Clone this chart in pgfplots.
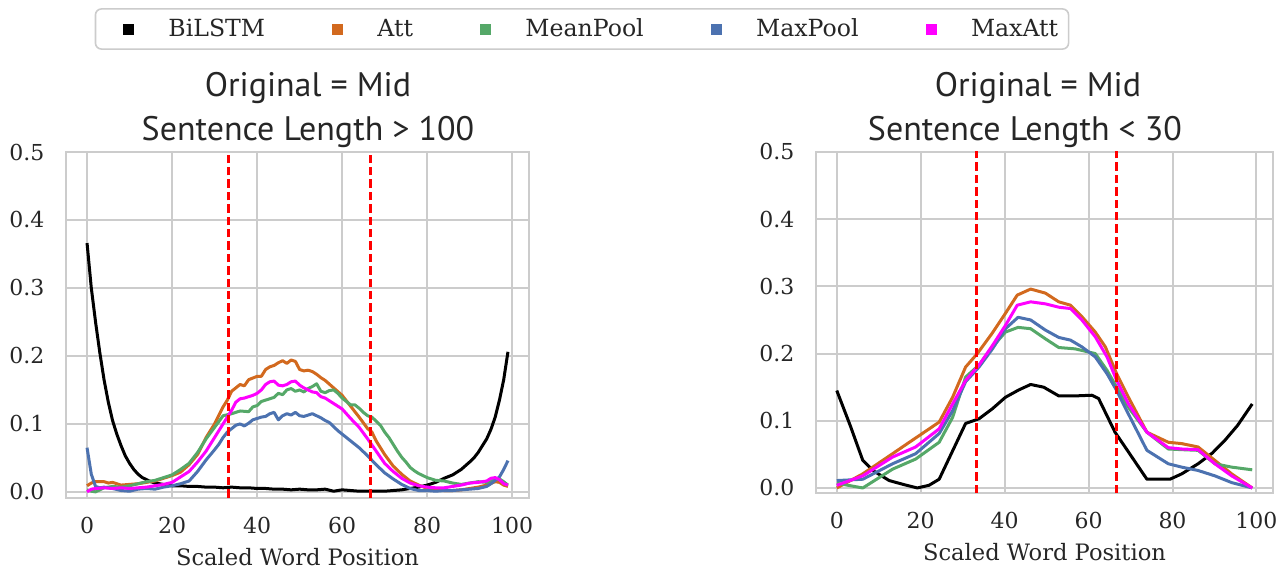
\documentclass[border=0pt]{standalone}
\usepackage{fontspec}
\setmainfont{DejaVu Serif}
\newfontfamily\titlefont{PT Sans}
\usepackage{pgfplots}
\pgfplotsset{compat=1.18}
\definecolor{cAtt}{HTML}{D2691E}
\definecolor{cMean}{HTML}{55A868}
\definecolor{cMax}{HTML}{4C72B0}
\definecolor{cMaxAtt}{HTML}{FF00FF}
\definecolor{gridc}{HTML}{CCCCCC}
\definecolor{txt}{HTML}{262626}

\pgfplotsset{
  sea/.style={
    scale only axis,
    xmin=-4.95, xmax=103.95,
    ymax=0.5,
    xtick={0,20,40,60,80,100},
    ytick={0,0.1,0.2,0.3,0.4,0.5},
    grid=major,
    major grid style={gridc, line width=1pt},
    axis line style={gridc, line width=1pt},
    major tick length=0pt,
    tick label style={font=\fontsize{11}{13}\selectfont, text=txt},
    /pgf/number format/assume math mode=true,
    yticklabel style={/pgf/number format/fixed, /pgf/number format/fixed zerofill, /pgf/number format/precision=1, xshift=-7.3pt},
    xticklabel style={yshift=-6.3pt},
    xlabel={Scaled Word Position},
    xlabel style={font=\fontsize{11.3}{13}\selectfont, text=txt, at={(axis description cs:0.5,0)}, anchor=base, yshift=-33.5pt},
    every axis plot/.append style={line width=1.5pt, line join=round},
    clip=true,
  },
  redline/.style={red, line width=1.35pt, dash pattern=on 4.2pt off 2pt, forget plot},
}

\begin{document}
\begin{tikzpicture}
\path[use as bounding box] (-33pt,-35pt) rectangle (607.5pt,249pt);

\begin{axis}[sea,
  at={(0pt,0pt)}, anchor=south west,
  width=231.5pt, height=173pt,
  ymin=-0.009,
  legend columns=5,
  legend image code/.code={\fill[#1, sharp corners, draw=none] (-2.75pt,-2.75pt) rectangle (2.75pt,2.75pt); \path[draw=none, fill=none] (-13.3pt,0pt) -- (18pt,0pt);},
  legend style={at={(1.1145,1.3555)}, anchor=center, draw=gridc, line width=0.8pt, rounded corners=3pt, fill=white,
    font=\fontsize{11.8}{14}\selectfont, text=txt, inner xsep=3.2pt, inner ysep=2.8pt,
    /tikz/every even column/.append style={column sep=20.9pt}},
]
\addplot[black] coordinates {
(0,0.366) (1,0.300) (2,0.250) (3,0.205) (4,0.165) (5,0.132) (6,0.105) (7,0.085) (8,0.068) (9,0.053)
(10,0.042) (11,0.033) (12,0.026) (13,0.021) (14,0.018) (15,0.015) (16,0.013) (18,0.011) (20,0.009)
(22,0.009) (24,0.008) (26,0.008) (28,0.007) (30,0.007) (32,0.006) (34,0.007) (36,0.006) (38,0.006)
(40,0.005) (42,0.005) (44,0.004) (46,0.004) (48,0.003) (50,0.004) (52,0.003) (54,0.003) (56,0.004)
(58,0.001) (60,0.003) (62,0.002) (64,0.001) (66,0.001) (68,0.001) (70,0.001) (72,0.002) (74,0.003)
(76,0.005) (78,0.007) (80,0.010) (82,0.014) (84,0.020) (86,0.025) (88,0.033) (90,0.044) (91,0.050)
(92,0.058) (93,0.068) (94,0.078) (95,0.092) (96,0.110) (97,0.135) (98,0.165) (99,0.206)
};
\addlegendentry{BiLSTM}
\addplot[cAtt] coordinates {
(0,0.009) (1,0.013) (2,0.015) (4,0.015) (5,0.013) (6,0.014) (8,0.010) (10,0.011) (12,0.012) (14,0.014)
(16,0.016) (18,0.020) (20,0.024) (22,0.029) (24,0.040) (26,0.055) (28,0.080) (30,0.100) (32,0.125)
(33,0.135) (34,0.148) (36,0.158) (37,0.156) (38,0.165) (40,0.170) (41,0.170) (42,0.180) (43,0.184)
(44,0.186) (45,0.190) (46,0.193) (47,0.189) (48,0.194) (49,0.192) (50,0.180) (51,0.178) (52,0.179)
(53,0.177) (54,0.173) (55,0.168) (56,0.164) (58,0.153) (60,0.142) (62,0.126) (64,0.110) (66,0.093)
(67,0.088) (68,0.075) (70,0.055) (72,0.038) (74,0.026) (76,0.016) (78,0.010) (80,0.005) (82,0.003)
(84,0.002) (86,0.002) (88,0.003) (90,0.005) (92,0.007) (94,0.010) (96,0.015) (97,0.014) (98,0.010) (99,0.008)
};
\addlegendentry{Att}
\addplot[cMean] coordinates {
(0,0.003) (1,0.001) (2,0.000) (3,0.003) (4,0.006) (6,0.008) (8,0.007) (10,0.009) (12,0.012) (14,0.015)
(16,0.017) (18,0.021) (20,0.025) (22,0.033) (24,0.042) (26,0.058) (28,0.078) (30,0.095) (32,0.112)
(34,0.115) (36,0.119) (38,0.118) (39,0.125) (40,0.127) (41,0.133) (42,0.135) (44,0.139) (45,0.145)
(46,0.143) (47,0.150) (48,0.152) (49,0.148) (50,0.150) (51,0.147) (52,0.152) (53,0.155) (54,0.159)
(55,0.148) (56,0.146) (57,0.149) (58,0.150) (59,0.145) (60,0.138) (61,0.133) (62,0.128) (63,0.128)
(64,0.123) (65,0.117) (66,0.112) (67,0.110) (68,0.104) (69,0.098) (70,0.088) (71,0.080) (72,0.070)
(73,0.060) (74,0.051) (75,0.044) (76,0.036) (77,0.031) (78,0.027) (80,0.021) (82,0.017) (84,0.016)
(86,0.013) (88,0.011) (90,0.013) (92,0.015) (94,0.014) (96,0.018) (97,0.019) (98,0.015) (99,0.010)
};
\addlegendentry{MeanPool}
\addplot[cMax] coordinates {
(0,0.065) (1,0.026) (2,0.008) (3,0.006) (4,0.007) (6,0.005) (8,0.002) (10,0.001) (12,0.004) (14,0.005)
(16,0.004) (18,0.007) (20,0.009) (22,0.012) (24,0.016) (26,0.030) (28,0.047) (30,0.062) (31,0.070)
(32,0.080) (33,0.088) (34,0.093) (35,0.098) (36,0.100) (37,0.097) (38,0.101) (39,0.106) (40,0.108)
(41,0.110) (42,0.111) (43,0.115) (44,0.117) (45,0.106) (46,0.112) (47,0.115) (48,0.113) (49,0.117)
(50,0.112) (51,0.111) (52,0.113) (53,0.115) (54,0.112) (55,0.109) (56,0.105) (57,0.102) (58,0.096)
(59,0.090) (60,0.085) (62,0.075) (64,0.065) (66,0.053) (68,0.040) (70,0.028) (72,0.019) (74,0.011)
(76,0.005) (78,0.002) (80,0.002) (82,0.001) (84,0.002) (86,0.002) (88,0.003) (90,0.004) (92,0.005)
(94,0.008) (95,0.012) (96,0.017) (97,0.022) (98,0.033) (99,0.046)
};
\addlegendentry{MaxPool}
\addplot[cMaxAtt] coordinates {
(0,0.000) (1,0.004) (2,0.005) (4,0.006) (6,0.005) (8,0.006) (10,0.005) (12,0.006) (14,0.007) (16,0.009)
(18,0.011) (20,0.014) (22,0.022) (24,0.030) (26,0.044) (28,0.060) (30,0.080) (31,0.090) (32,0.100)
(33,0.110) (34,0.120) (35,0.132) (36,0.137) (37,0.138) (38,0.140) (39,0.142) (40,0.145) (41,0.150)
(42,0.158) (43,0.162) (44,0.163) (45,0.157) (46,0.156) (47,0.158) (48,0.162) (49,0.163) (50,0.157)
(51,0.153) (52,0.150) (53,0.147) (54,0.146) (55,0.140) (56,0.138) (57,0.134) (58,0.130) (59,0.126)
(60,0.122) (62,0.108) (64,0.095) (66,0.078) (68,0.060) (70,0.042) (72,0.030) (74,0.020) (76,0.013)
(78,0.009) (80,0.007) (82,0.006) (84,0.006) (86,0.008) (88,0.010) (90,0.013) (92,0.014) (94,0.016)
(95,0.020) (96,0.021) (97,0.018) (98,0.012) (99,0.010)
};
\addlegendentry{MaxAtt}
\addplot[redline] coordinates {(33.333,-0.1) (33.333,0.6)};
\addplot[redline] coordinates {(66.667,-0.1) (66.667,0.6)};
\end{axis}

\begin{axis}[sea,
  at={(375pt,2.5pt)}, anchor=south west,
  width=228.5pt, height=170.5pt,
  ymin=-0.0075,
]
\addplot[black] coordinates {
(0,0.145) (3.2,0.093) (6.2,0.041) (8.6,0.026) (12.5,0.011) (16,0.005) (19.2,0.000) (22,0.004)
(24.4,0.013) (30.7,0.096) (33.9,0.103) (37.1,0.118) (40.2,0.135) (43.4,0.146) (46.2,0.154)
(49.3,0.150) (52.9,0.137) (56.8,0.137) (60.8,0.138) (62.4,0.133) (66.3,0.083) (68.7,0.061)
(73.9,0.013) (79.4,0.013) (82.2,0.021) (86.1,0.036) (89.5,0.052) (92.5,0.071) (95.5,0.093) (99,0.125)
};
\addplot[cAtt] coordinates {
(0,0.000) (6.2,0.021) (13.3,0.051) (18,0.071) (24.4,0.098) (27.6,0.135) (30.7,0.180) (33.5,0.200)
(37,0.230) (40.2,0.260) (43,0.287) (46.2,0.296) (49.7,0.290) (52.9,0.277) (55.7,0.272) (58.4,0.255)
(61.6,0.232) (64,0.210) (66.7,0.170) (69.5,0.135) (73.9,0.083) (79,0.068) (82.2,0.066) (86.1,0.061)
(90.1,0.041) (94.1,0.021) (99,0.000)
};
\addplot[cMean] coordinates {
(0,0.007) (6.2,0.000) (13.3,0.028) (18.8,0.043) (24.4,0.068) (27.6,0.105) (30.7,0.165) (33.9,0.183)
(37.1,0.210) (40.2,0.232) (43.2,0.239) (46.2,0.237) (49.7,0.222) (52.9,0.209) (56.8,0.207) (61.6,0.200)
(64.4,0.175) (66.7,0.150) (69.5,0.120) (73.9,0.083) (79,0.058) (82.2,0.057) (86.1,0.056) (90.1,0.036)
(94.1,0.031) (99,0.027)
};
\addplot[cMax] coordinates {
(0,0.011) (6.2,0.013) (13.3,0.036) (18.8,0.051) (24.4,0.081) (27.6,0.115) (30.7,0.158) (33.9,0.180)
(37.1,0.207) (40.2,0.237) (43.2,0.254) (46.2,0.250) (49.7,0.235) (52.9,0.224) (55.7,0.220) (58.4,0.210)
(61.6,0.195) (64.4,0.170) (66.7,0.145) (69.5,0.110) (73.9,0.056) (79,0.036) (82.2,0.031) (86.1,0.026)
(90.1,0.018) (94.1,0.008) (99,0.000)
};
\addplot[cMaxAtt] coordinates {
(0,0.004) (6.2,0.018) (13.3,0.046) (18.8,0.061) (24.4,0.088) (27.6,0.125) (30.7,0.160) (33.9,0.183)
(37.1,0.212) (40.2,0.242) (43,0.272) (46.2,0.277) (49.7,0.274) (52.9,0.269) (55.7,0.267) (58.4,0.250)
(61.6,0.225) (64.4,0.195) (66.7,0.160) (69.5,0.125) (73.9,0.083) (79,0.060) (82.2,0.058) (86.1,0.057)
(90.1,0.036) (94.1,0.018) (99,0.000)
};
\addplot[redline] coordinates {(33.333,-0.1) (33.333,0.6)};
\addplot[redline] coordinates {(66.667,-0.1) (66.667,0.6)};
\end{axis}

\begin{scope}[every node/.style={font=\titlefont\fontsize{17}{20}\selectfont, text=txt, anchor=base, inner sep=0pt}]
\node at (121pt,200.7pt) {Original = Mid};
\node at (121pt,178.6pt) {Sentence Length > 100};
\node at (486pt,200.7pt) {Original = Mid};
\node at (479.5pt,178.6pt) {Sentence Length < 30};
\end{scope}
\end{tikzpicture}
\end{document}
